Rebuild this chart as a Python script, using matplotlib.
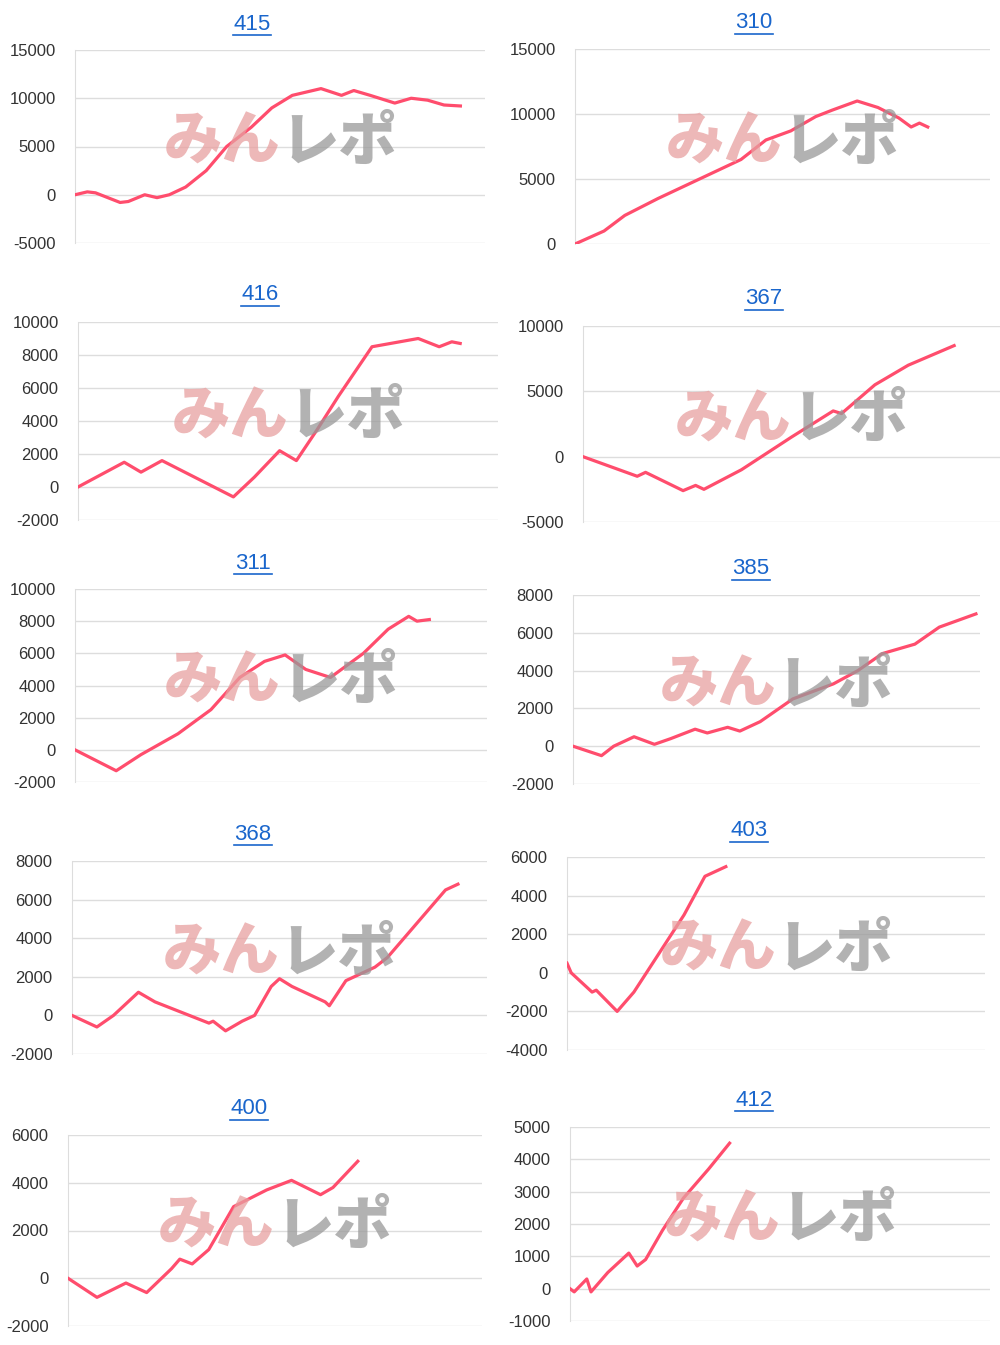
import matplotlib
matplotlib.use("Agg")
import matplotlib.pyplot as plt

W, H = 1000, 1345

# panel titles
titles = ["415", "310", "416", "367", "311", "385", "368", "403", "400", "412"]

# y ticks per panel
yticks = [
    [-5000, 0, 5000, 10000, 15000],
    [0, 5000, 10000, 15000],
    [-2000, 0, 2000, 4000, 6000, 8000, 10000],
    [-5000, 0, 5000, 10000],
    [-2000, 0, 2000, 4000, 6000, 8000, 10000],
    [-2000, 0, 2000, 4000, 6000, 8000],
    [-2000, 0, 2000, 4000, 6000, 8000],
    [-4000, -2000, 0, 2000, 4000, 6000],
    [-2000, 0, 2000, 4000, 6000],
    [-1000, 0, 1000, 2000, 3000, 4000, 5000],
]

# series: progress (% of axis width) and value
x415 = [0, 3, 5, 8, 11, 13, 17, 20, 23, 27, 32, 37, 43, 48, 53, 60, 65, 68, 72, 78, 82, 86, 90, 94]
y415 = [0, 300, 200, -300, -800, -700, 0, -300, 0, 800, 2500, 5000, 7000, 9000, 10300, 11000, 10300, 10800, 10300, 9500, 10000, 9800, 9300, 9200]
x310 = [0, 7, 12, 20, 30, 40, 46, 52, 58, 62, 68, 73, 78, 81, 83, 85]
y310 = [0, 1000, 2200, 3500, 5000, 6500, 8000, 8700, 9800, 10300, 11000, 10500, 9700, 9000, 9300, 9000]
x416 = [0, 11, 15, 20, 37, 42, 48, 52, 57, 62, 70, 81, 86, 89, 91]
y416 = [0, 1500, 900, 1600, -600, 600, 2200, 1600, 3500, 5500, 8500, 9000, 8500, 8800, 8700]
x367 = [0, 13, 15, 24, 27, 29, 38, 50, 60, 62, 70, 78, 89]
y367 = [0, -1500, -1200, -2600, -2200, -2500, -1000, 1500, 3500, 3300, 5500, 7000, 8500]
x311 = [0, 10, 16, 25, 33, 40, 46, 51, 56, 62, 70, 76, 81, 83, 86]
y311 = [0, -1300, -300, 1000, 2500, 4500, 5500, 5900, 5000, 4500, 6000, 7500, 8300, 8000, 8100]
x385 = [0, 7, 10, 15, 20, 24, 30, 33, 38, 41, 46, 54, 64, 70, 76, 84, 90, 99]
y385 = [0, -500, 0, 500, 100, 400, 900, 700, 1000, 800, 1300, 2500, 3300, 4000, 4900, 5400, 6300, 7000]
x368 = [0, 6, 10, 15, 16, 20, 33, 34, 37, 41, 44, 48, 50, 53, 61, 62, 66, 73, 76, 84, 90, 93]
y368 = [0, -600, 0, 1000, 1200, 700, -400, -300, -800, -300, 0, 1500, 1900, 1500, 700, 500, 1800, 2500, 3000, 5000, 6500, 6800]
x403 = [0, 1, 5, 6, 7, 12, 16, 22, 28, 33, 38]
y403 = [500, 0, -800, -1000, -900, -2000, -1000, 1000, 3000, 5000, 5500]
x400 = [0, 7, 14, 19, 25, 27, 30, 34, 40, 48, 54, 61, 64, 70]
y400 = [0, -800, -200, -600, 400, 800, 600, 1200, 3000, 3700, 4100, 3500, 3800, 4900]
x412 = [0, 1, 4, 5, 9, 14, 16, 18, 22, 27, 33, 38]
y412 = [0, -100, 300, -100, 500, 1100, 700, 900, 1800, 2800, 3700, 4500]

series = [(x415, y415), (x310, y310), (x416, y416), (x367, y367), (x311, y311),
          (x385, y385), (x368, y368), (x403, y403), (x400, y400), (x412, y412)]

# pixel layout: left, right, y px of top tick, y px of bottom tick, title x, title y
layout = [
    (75, 485, 50, 243, 252, 24),
    (575, 990, 49, 244, 754, 23),
    (78, 498, 322, 520, 260, 295),
    (583, 1000, 326, 522, 764, 299),
    (75, 487, 589, 782, 253, 563),
    (573, 980, 595, 784, 751, 569),
    (72, 487, 861, 1054, 253, 834),
    (567, 985, 857, 1050, 749, 831),
    (68, 482, 1135, 1326, 249, 1109),
    (570, 990, 1127, 1321, 754, 1100),
]

fig = plt.figure(figsize=(W / 100, H / 100), dpi=100)
fig.patch.set_facecolor("white")

for i, (l, r, t, b, tx, ty) in enumerate(layout):
    ax = fig.add_axes([l / W, 1 - b / H, (r - l) / W, (b - t) / H])
    yt = yticks[i]
    ax.set_ylim(yt[0], yt[-1])
    ax.set_xlim(0, 100)
    ax.set_yticks(yt)
    ax.set_yticklabels([str(v) for v in yt], fontsize=12, color="#333333",
                       family="Liberation Sans")
    ax.set_xticks([])
    ax.grid(axis="y", color="#dddddd", linewidth=1)
    for s in ["top", "right", "bottom"]:
        ax.spines[s].set_visible(False)
    ax.spines["left"].set_color("#dddddd")
    ax.tick_params(axis="y", length=0, pad=14)
    ax.set_facecolor("none")
    # watermark
    cx = (l + r) / 2 / W
    cy = 1 - (t + b) / 2 / H + 0.003
    fig.text(cx, cy, "みん", fontsize=42, fontweight="black", fontstyle="italic",
             color="#e8a0a0", alpha=0.75, ha="right", va="center",
             family=["Noto Sans CJK JP", "DejaVu Sans"], zorder=0)
    fig.text(cx, cy, "レポ", fontsize=42, fontweight="black", fontstyle="italic",
             color="#999999", alpha=0.75, ha="left", va="center",
             family=["Noto Sans CJK JP", "DejaVu Sans"], zorder=0)
    xs, ys = series[i]
    ax.plot(xs, ys, color="#ff4d6d", linewidth=2.3, zorder=3)
    fig.text(tx / W, 1 - ty / H, titles[i], fontsize=16, color="#1a66cc",
             ha="center", va="center", family="Liberation Sans")
    # underline
    fig.add_artist(plt.Line2D([(tx - 19) / W, (tx + 19) / W],
                              [1 - (ty + 11) / H, 1 - (ty + 11) / H],
                              color="#1a66cc", linewidth=1.2))

fig.savefig("out.png", dpi=100)
